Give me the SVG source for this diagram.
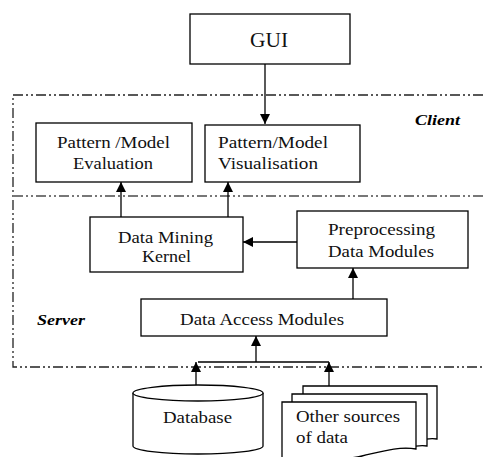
<svg xmlns="http://www.w3.org/2000/svg" width="483" height="457" viewBox="0 0 483 457">
<defs>
<marker id="ah" viewBox="0 0 10 10" refX="10" refY="5" markerWidth="10" markerHeight="10" markerUnits="userSpaceOnUse" orient="auto">
<path d="M0,0 L10,5 L0,10 Z" fill="#000"/>
</marker>
</defs>
<style>
.box{fill:#fff;stroke:#000;stroke-width:1.3}
.t{font-family:"Liberation Serif","Times New Roman",serif;font-size:16px;fill:#111}
.lbl{font-family:"Liberation Serif","Times New Roman",serif;font-size:15px;font-weight:bold;font-style:italic;fill:#000}
.frame{fill:none;stroke:#222;stroke-width:1.3;stroke-dasharray:10 3 2 3 2 3}
.div{fill:none;stroke:#777;stroke-width:2;stroke-dasharray:10 3 2 3 2 3}
.c{fill:none;stroke:#000;stroke-width:1.3}
</style>
<rect width="483" height="457" fill="#fff"/>
<g id="frame">
<path class="frame" d="M483,95 H13 V367 H483"/>
<path class="div" d="M13,196 H483"/>
<text class="lbl" x="415" y="125" textLength="45" lengthAdjust="spacingAndGlyphs">Client</text>
<text class="lbl" x="37" y="325" textLength="48" lengthAdjust="spacingAndGlyphs">Server</text>
</g>
<g id="connectors">
<path class="c" d="M265,64 V124" marker-end="url(#ah)"/>
<path class="c" d="M121,217 V182" marker-end="url(#ah)"/>
<path class="c" d="M228,217 V182" marker-end="url(#ah)"/>
<path class="c" d="M297,242 H243" marker-end="url(#ah)"/>
<path class="c" d="M353,299 V268" marker-end="url(#ah)"/>
<path class="c" d="M198,362 H329"/>
<path class="c" d="M256,362 V336" marker-end="url(#ah)"/>
<path class="c" d="M196,387 V362" marker-end="url(#ah)"/>
<path class="c" d="M329,386 V362" marker-end="url(#ah)"/>
</g>
<g id="gui">
<rect class="box" x="190" y="14" width="160" height="50"/>
<text class="t" x="250" y="47" style="font-size:20px" textLength="38" lengthAdjust="spacingAndGlyphs">GUI</text>
</g>
<g id="eval">
<rect class="box" x="36" y="123" width="156" height="59"/>
<text class="t" x="57" y="148" textLength="113" lengthAdjust="spacingAndGlyphs">Pattern /Model</text>
<text class="t" x="73" y="169" textLength="80" lengthAdjust="spacingAndGlyphs">Evaluation</text>
</g>
<g id="vis">
<rect class="box" x="205" y="125" width="155" height="57"/>
<text class="t" x="218" y="148" textLength="110" lengthAdjust="spacingAndGlyphs">Pattern/Model</text>
<text class="t" x="218" y="169" textLength="100" lengthAdjust="spacingAndGlyphs">Visualisation</text>
</g>
<g id="dmk">
<rect class="box" x="90" y="217" width="153" height="55"/>
<text class="t" x="118" y="243" textLength="95" lengthAdjust="spacingAndGlyphs">Data Mining</text>
<text class="t" x="142" y="262" textLength="49" lengthAdjust="spacingAndGlyphs">Kernel</text>
</g>
<g id="prep">
<rect class="box" x="297" y="211" width="171" height="57"/>
<text class="t" x="328" y="235" textLength="107" lengthAdjust="spacingAndGlyphs">Preprocessing</text>
<text class="t" x="328" y="257" textLength="106" lengthAdjust="spacingAndGlyphs">Data Modules</text>
</g>
<g id="dam">
<rect class="box" x="141" y="299" width="246" height="37"/>
<text class="t" x="180" y="325" textLength="164" lengthAdjust="spacingAndGlyphs">Data Access Modules</text>
</g>
<g id="database">
<path class="box" d="M133,393 V446 A65,8 0 0 0 263,446 V393"/>
<ellipse class="box" cx="198" cy="393" rx="65" ry="8"/>
<text class="t" x="163" y="423" textLength="69" lengthAdjust="spacingAndGlyphs">Database</text>
</g>
<g id="others">
<path class="box" d="M303,386 H437 V439 C430,438 425,439 419,441 L303,441 Z"/>
<path class="box" d="M292,394 H427 V446 C420,445 415,446 409,448 L292,448 Z"/>
<path class="box" d="M282,402 H416 V449 C398,446 380,452 362,456 C340,461 310,460 282,458 Z"/>
<text class="t" x="296" y="422" textLength="104" lengthAdjust="spacingAndGlyphs">Other sources</text>
<text class="t" x="296" y="443" textLength="52" lengthAdjust="spacingAndGlyphs">of data</text>
</g>
</svg>
